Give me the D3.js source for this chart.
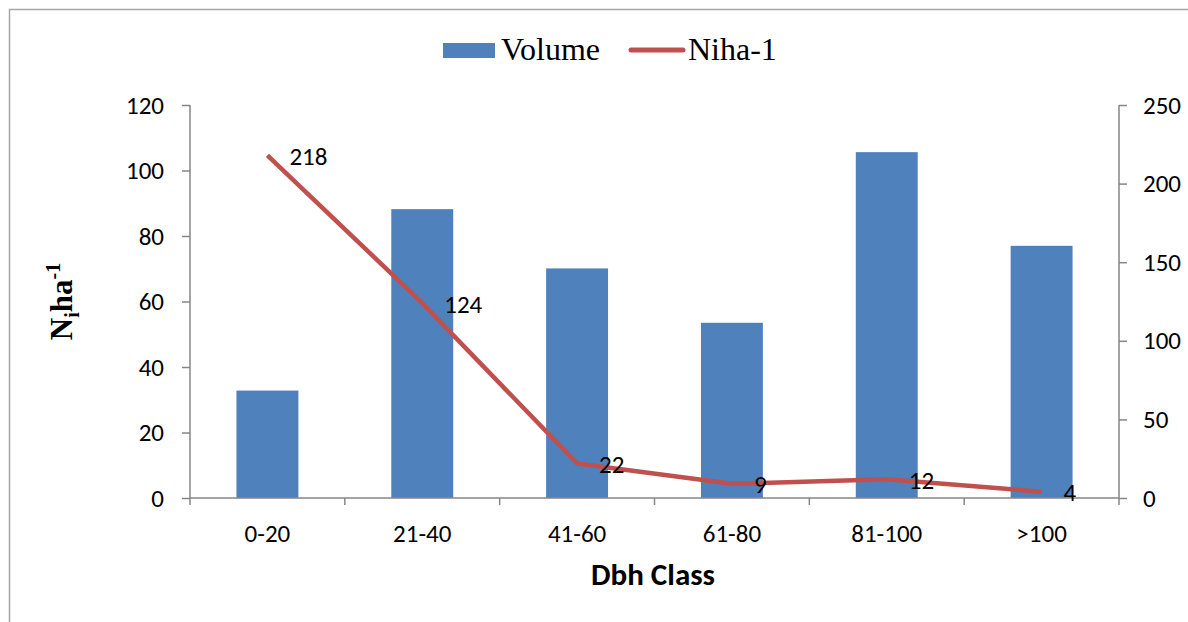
<!DOCTYPE html>
<html>
<head>
<meta charset="utf-8">
<script src="https://cdn.jsdelivr.net/npm/d3@7"></script>
<style>
  html, body { margin: 0; padding: 0; background: #fff; }
  svg { display: block; }
</style>
</head>
<body>
<svg id="chart" width="1188" height="622"></svg>
<script>
const categories = ["0-20", "21-40", "41-60", "61-80", "81-100", ">100"];
const volumeValues = [32.8, 88.2, 70.1, 53.5, 105.6, 77];
const nihaValues = [218, 124, 22, 9, 12, 4];
const leftTicks = [0, 20, 40, 60, 80, 100, 120];
const rightTicks = [0, 50, 100, 150, 200, 250];

const W = 1188, H = 622;
const m = { left: 190, right: 1119, top: 105, bottom: 498 };
const svg = d3.select("#chart");
const axisColor = "#868686";
const tickFont = "Calibri, Carlito, Lato, sans-serif";
const serif = "'Times New Roman', 'Liberation Serif', serif";

// outer border
svg.append("rect").attr("x", 9.5).attr("y", 9.5).attr("width", W + 20).attr("height", H + 20)
  .attr("fill", "none").attr("stroke", "#a6a6a6").attr("stroke-width", 1.5);

const x = d3.scaleBand().domain(categories).range([m.left, m.right]);
const yL = d3.scaleLinear().domain([0, 120]).range([m.bottom, m.top]);
const yR = d3.scaleLinear().domain([0, 250]).range([m.bottom, m.top]);

// bars (gap width 150%)
svg.append("g").selectAll("rect").data(volumeValues).join("rect")
  .attr("x", (d, i) => x(categories[i]) + x.bandwidth() * 0.3)
  .attr("width", x.bandwidth() * 0.4)
  .attr("y", d => yL(d))
  .attr("height", d => yL(0) - yL(d))
  .attr("fill", "#4F81BD");

// left axis
const gL = svg.append("g").attr("transform", `translate(${m.left},0)`);
gL.call(d3.axisLeft(yL).tickValues(d3.range(0, 121, 4)).tickSize(6).tickFormat(""))
  .call(g => g.select(".domain").remove());
gL.call(d3.axisLeft(yL).tickValues(leftTicks).tickSize(8).tickPadding(18).tickFormat(d3.format("d")))
  .call(g => g.select(".domain").remove());
gL.append("line").attr("x1", 0).attr("x2", 0).attr("y1", m.top).attr("y2", m.bottom + 7);

// right axis
const gR = svg.append("g").attr("transform", `translate(${m.right},0)`);
gR.call(d3.axisRight(yR).tickValues(d3.range(0, 251, 10)).tickSize(6).tickFormat(""))
  .call(g => g.select(".domain").remove());
gR.call(d3.axisRight(yR).tickValues(rightTicks).tickSize(8).tickPadding(16).tickFormat(d3.format("d")))
  .call(g => g.select(".domain").remove());
gR.append("line").attr("x1", 0).attr("x2", 0).attr("y1", m.top).attr("y2", m.bottom + 7);

// x axis
const gX = svg.append("g").attr("transform", `translate(0,${m.bottom})`);
gX.call(d3.axisBottom(x).tickSize(0).tickPadding(26))
  .call(g => g.select(".domain").remove());
gX.append("line").attr("x1", m.left).attr("x2", m.right).attr("y1", 0).attr("y2", 0);
gX.selectAll(".cat-tick").data(categories.slice(1)).join("line").attr("class", "cat-tick")
  .attr("x1", d => x(d)).attr("x2", d => x(d)).attr("y1", 0).attr("y2", 7);

svg.selectAll(".tick line, g > line").attr("stroke", axisColor).attr("stroke-width", 1.5);
svg.selectAll(".tick text").attr("font-family", tickFont).attr("font-size", 25).attr("fill", "#000");

// line
const cx = i => x(categories[i]) + x.bandwidth() / 2;
svg.append("path").datum(nihaValues)
  .attr("d", d3.line().x((d, i) => cx(i)).y(d => yR(d)))
  .attr("fill", "none").attr("stroke", "#C0504D").attr("stroke-width", 4.5)
  .attr("stroke-linejoin", "round");

// data labels
svg.append("g").selectAll("text").data(nihaValues).join("text")
  .attr("x", (d, i) => cx(i) + 22)
  .attr("y", d => yR(d))
  .attr("dy", "0.38em")
  .attr("font-family", tickFont).attr("font-size", 25).attr("fill", "#000")
  .text(d => d);

// legend
const lg = svg.append("g");
lg.append("rect").attr("x", 443).attr("y", 43).attr("width", 52).attr("height", 15).attr("fill", "#4F81BD");
lg.append("text").attr("x", 501).attr("y", 60).attr("font-family", serif)
  .attr("font-size", 32).text("Volume");
lg.append("line").attr("x1", 631).attr("x2", 683).attr("y1", 50).attr("y2", 50)
  .attr("stroke", "#C0504D").attr("stroke-width", 5).attr("stroke-linecap", "round");
lg.append("text").attr("x", 688).attr("y", 60).attr("font-family", serif)
  .attr("font-size", 32).text("Niha-1");

// x axis title
svg.append("text").attr("x", 653).attr("y", 585).attr("text-anchor", "middle")
  .attr("font-family", tickFont).attr("font-weight", "bold").attr("font-size", 31).text("Dbh Class");

// y axis title N_i ha^-1
const yt = svg.append("text").attr("transform", `translate(72,${(m.top + m.bottom) / 2}) rotate(-90)`)
  .attr("text-anchor", "middle").attr("font-family", serif)
  .attr("font-weight", "bold").attr("font-size", 31);
yt.append("tspan").text("N");
yt.append("tspan").attr("dy", 7).attr("font-size", 20).text("i");
yt.append("tspan").attr("dy", -7).text("ha");
yt.append("tspan").attr("dy", -12).attr("font-size", 20).text("-1");
</script>
</body>
</html>
